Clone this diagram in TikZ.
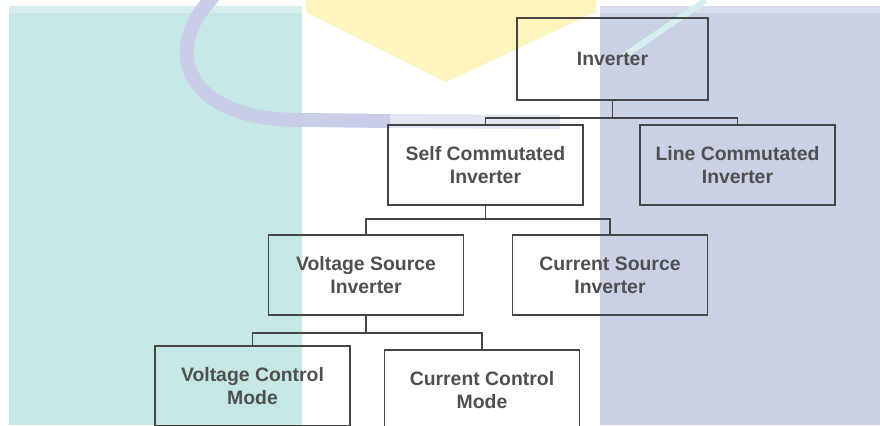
\documentclass[tikz,border=0pt]{standalone}
\usepackage{fontspec}
\setmainfont{Liberation Sans}
\usepackage{tikz}
\usetikzlibrary{calc}
\definecolor{wmteal}{HTML}{C5E8E6}
\definecolor{wmtealtop}{HTML}{D6EFEE}
\definecolor{wmblue}{HTML}{CAD1E5}
\definecolor{wmbluetop}{HTML}{D8DCEC}
\definecolor{wmyellow}{HTML}{FDF4BE}
\definecolor{wmarc}{HTML}{C9CDE7}
\definecolor{wmarclight}{HTML}{E2E5F2}
\definecolor{boxgrey}{HTML}{454545}
\definecolor{txtgrey}{HTML}{4F4F4F}

\begin{document}
\begin{tikzpicture}[x=0.5pt,y=-0.5pt,font=\fontsize{9.7}{11.5}\selectfont\bfseries]
\tikzset{
  box/.style={draw=boxgrey,line width=0.9pt,align=center,minimum width=97.5pt,minimum height=40pt,text=txtgrey,inner sep=2pt},
  conn/.style={draw=boxgrey,line width=0.9pt}
}
\path[use as bounding box,clip] (0,0) rectangle (880,425);
% watermark behind the chart
\fill[wmteal] (9,6) rectangle (302,425);
\fill[wmtealtop] (9,6) rectangle (302,13);
\fill[wmblue] (600,6) rectangle (880,425);
\fill[wmbluetop] (600,6) rectangle (880,13);
\fill[wmyellow] (306,0) -- (596,0) -- (596,12) -- (446,82) -- (306,12) -- cycle;
\draw[wmarc,line width=7pt] (214,-4) .. controls (160,50) and (185,120) .. (300,120) -- (390,121);
\draw[wmarclight,line width=7pt] (390,121) -- (560,122);
\draw[wmtealtop,line width=3pt] (706,0) -- (624,56);
% chart
\node(inv)[box,minimum width=95.5pt,minimum height=41pt] at (612.5,59){Inverter};
\node(sci)[box] at (485.5,165){Self Commutated\\Inverter};
\node(lci)[box] at (737.5,165){Line Commutated\\Inverter};
\node(vsi)[box] at (366,275){Voltage Source\\Inverter};
\node(csi)[box] at (610,275){Current Source\\Inverter};
\node(vcm)[box] at (252.5,386){Voltage Control\\Mode};
\node(ccm)[box] at (482,390){Current Control\\Mode};
\coordinate(j1) at ($(inv.south)+(0,17)$);
\coordinate(j2) at ($(sci.south)+(0,13)$);
\coordinate(j3) at ($(vsi.south)+(0,17)$);
\draw[conn](inv.south)--(j1)-|(sci.north); \draw[conn](j1)-|(lci.north);
\draw[conn](sci.south)--(j2)-|(vsi.north); \draw[conn](j2)-|(csi.north);
\draw[conn](vsi.south)--(j3)-|(vcm.north); \draw[conn](j3)-|(ccm.north);
\end{tikzpicture}
\end{document}
